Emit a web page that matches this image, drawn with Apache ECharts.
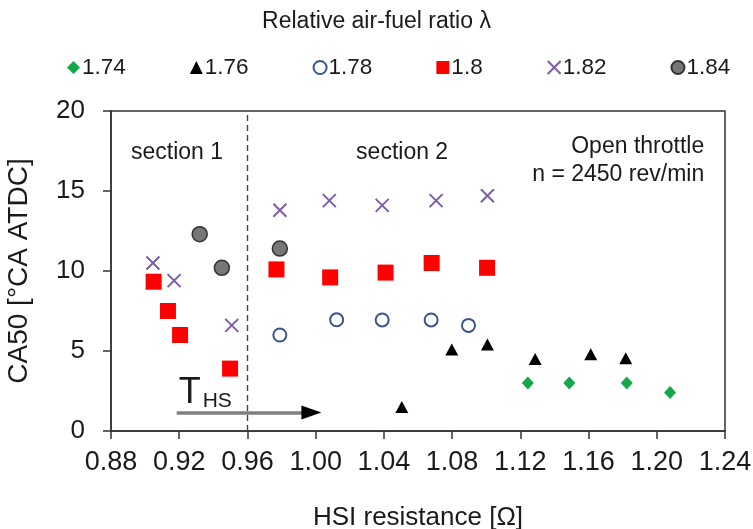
<!DOCTYPE html>
<html><head><meta charset="utf-8">
<script src="https://cdn.jsdelivr.net/npm/echarts@6/dist/echarts.min.js"></script>
<style>html,body{margin:0;padding:0;background:#fff}#c{width:753px;height:529px}</style>
</head><body><div id="c"></div>
<script>
// lambda = 1.74
const x174 = [1.1244, 1.1487, 1.1824, 1.2078];
const y174 = [3.0, 3.0, 3.0, 2.4];
// lambda = 1.76
const x176 = [1.0505, 1.0798, 1.1007, 1.1287, 1.1613, 1.1818];
const y176 = [1.5, 5.1, 5.4, 4.5, 4.8, 4.55];
// lambda = 1.78
const x178 = [0.979, 1.0123, 1.039, 1.0677, 1.0896];
const y178 = [6.0, 6.95, 6.94, 6.94, 6.6];
// lambda = 1.8
const x180 = [0.905, 0.9134, 0.9205, 0.9498, 0.977, 1.0085, 1.041, 1.068, 1.1005];
const y180 = [9.33, 7.5, 6.0, 3.9, 10.1, 9.6, 9.9, 10.5, 10.2];
// lambda = 1.82
const x182 = [0.9046, 0.917, 0.9508, 0.979, 1.008, 1.039, 1.0706, 1.1007];
const y182 = [10.5, 9.4, 6.6, 13.8, 14.4, 14.1, 14.4, 14.7];
// lambda = 1.84
const x184 = [0.932, 0.945, 0.979];
const y184 = [12.3, 10.2, 11.4];

const xTicks = [0.88, 0.92, 0.96, 1.00, 1.04, 1.08, 1.12, 1.16, 1.20, 1.24];
const yTicks = [0, 5, 10, 15, 20];
const sectionBoundary = 0.96;
const arrowFrom = [0.9185, 1.15];
const arrowLineEnd = [0.996, 1.15];
const arrowHead = [0.9975, 1.15];

const zip = (xs, ys) => xs.map((x, i) => [x, ys[i]]);
const FONT = 'Liberation Sans';
const crossPath = 'path://M0,0 L10,10 M10,0 L0,10';
const TXT = '#1a1a1a';

const chart = echarts.init(document.getElementById('c'), null, {renderer: 'canvas'});
chart.setOption({
  animation: false,
  textStyle: {fontFamily: FONT},
  title: {
    text: 'Relative air-fuel ratio λ', left: 'center', top: 5,
    textStyle: {fontFamily: FONT, fontSize: 23, fontWeight: 'normal', color: TXT}
  },
  legend: {
    top: 51, left: 62,
    itemGap: 64, itemWidth: 13, itemHeight: 13,
    textStyle: {fontFamily: FONT, fontSize: 22.5, color: TXT, padding: [0,0,0,-3]},
    data: ['1.74', '1.76', '1.78', '1.8', '1.82', '1.84']
  },
  grid: {left: 111, top: 111, right: 28, bottom: 98, containLabel: false, outerBoundsMode: 'none',
    show: true, borderColor: '#333', borderWidth: 1.5, backgroundColor: 'transparent'},
  xAxis: {
    type: 'value', min: 0.88, max: 1.24, interval: 0.04,
    name: 'HSI resistance [Ω]', nameLocation: 'middle', nameGap: 74,
    nameTextStyle: {fontFamily: FONT, fontSize: 26, color: TXT},
    axisLine: {lineStyle: {color: '#333', width: 1.5}},
    axisTick: {inside: false, length: 8, lineStyle: {color: '#333', width: 1.5}},
    axisLabel: {fontFamily: FONT, fontSize: 27, color: TXT, margin: 18,
      formatter: v => { const t = xTicks.find(k => Math.abs(k - v) < 1e-6); return t !== undefined ? t.toFixed(2) : ''; }},
    splitLine: {show: false}
  },
  yAxis: {
    type: 'value', min: 0, max: 20, interval: 5,
    name: 'CA50 [°CA ATDC]', nameLocation: 'middle', nameGap: 78,
    nameTextStyle: {fontFamily: FONT, fontSize: 28, color: TXT},
    axisLine: {show: true, lineStyle: {color: '#333', width: 1.5}},
    axisTick: {show: true, inside: false, length: 8, lineStyle: {color: '#333', width: 1.5}},
    axisLabel: {fontFamily: FONT, fontSize: 26, color: TXT, margin: 26,
      formatter: v => yTicks.includes(v) ? String(v) : ''},
    splitLine: {show: false}
  },
  series: [
    {name: '1.74', type: 'scatter', symbol: 'diamond', symbolSize: [12, 13], data: zip(x174, y174),
     itemStyle: {color: '#14A84B', opacity: 1}},
    {name: '1.76', type: 'scatter', symbol: 'triangle', symbolSize: [13, 12], data: zip(x176, y176),
     itemStyle: {color: '#000', opacity: 1}},
    {name: '1.78', type: 'scatter', symbol: 'emptyCircle', symbolSize: 13, data: zip(x178, y178),
     itemStyle: {color: '#3A5488', borderColor: '#3A5488', borderWidth: 1.8, opacity: 1}},
    {name: '1.8', type: 'scatter', symbol: 'rect', symbolSize: 16, data: zip(x180, y180),
     itemStyle: {color: '#FF0000', opacity: 1}},
    {name: '1.82', type: 'scatter', symbol: crossPath, symbolSize: 13, data: zip(x182, y182),
     itemStyle: {color: '#7E5DAE', borderColor: '#7E5DAE', borderWidth: 2, opacity: 1}},
    {name: '1.84', type: 'scatter', symbol: 'circle', symbolSize: 15, data: zip(x184, y184),
     itemStyle: {color: '#777777', borderColor: '#333333', borderWidth: 1.5, opacity: 1}},
    {name: 'annot', type: 'scatter', data: [], silent: true,
     markLine: {
       silent: true, animation: false,
       data: [
         [{coord: [sectionBoundary, 0], symbol: 'none', lineStyle: {color: '#444', width: 1.4, type: [6, 4]}},
          {coord: [sectionBoundary, 20], symbol: 'none'}],
         [{coord: arrowFrom, symbol: 'none', lineStyle: {color: '#7f7f7f', width: 3.5, type: 'solid'}},
          {coord: arrowLineEnd, symbol: 'none'}]
       ],
       label: {show: false}
     },
     markPoint: {
       silent: true, symbol: 'circle', symbolSize: 0,
       label: {show: true, fontFamily: FONT, color: TXT},
       data: [
         {coord: arrowHead, symbol: 'triangle', symbolSize: [14, 20], symbolRotate: -90,
          itemStyle: {color: '#000'}, label: {show: false}},
         {coord: [0.9187, 17.4], label: {fontSize: 23, align: 'center', verticalAlign: 'middle', formatter: 'section 1'}},
         {coord: [1.0507, 17.4], label: {fontSize: 23, align: 'center', verticalAlign: 'middle', formatter: 'section 2'}},
         {coord: [1.2278, 17.75], label: {fontSize: 23, align: 'right', verticalAlign: 'middle', formatter: 'Open throttle'}},
         {coord: [1.2278, 16.0], label: {fontSize: 23, align: 'right', verticalAlign: 'middle', formatter: 'n = 2450 rev/min'}},
         {coord: [0.9197, 2.4], label: {align: 'left', verticalAlign: 'middle', formatter: '{t|T}{s|HS}',
           rich: {t: {fontSize: 36, fontFamily: FONT, color: TXT}, s: {fontSize: 21, fontFamily: FONT, color: TXT, padding: [18, 0, 0, 2]}}}}
       ]
     }
    }
  ]
});
</script></body></html>
